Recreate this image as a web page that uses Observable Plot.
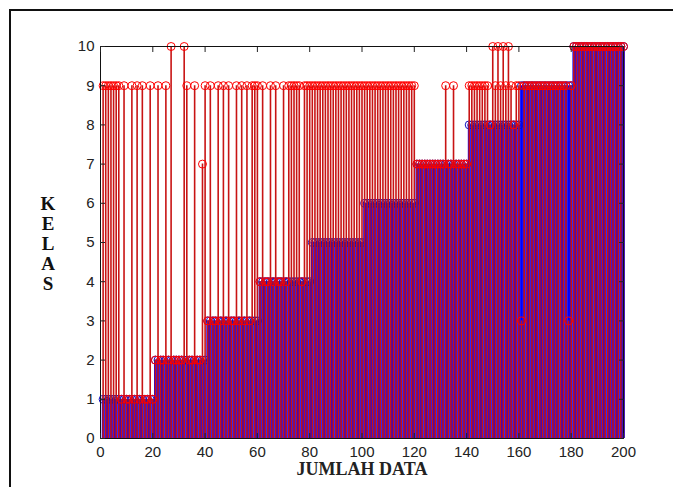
<!DOCTYPE html>
<html><head><meta charset="utf-8">
<script src="https://cdn.jsdelivr.net/npm/d3@7"></script>
<script src="https://cdn.jsdelivr.net/npm/@observablehq/plot@0.6"></script>
<style>
html,body{margin:0;padding:0;background:#fff;}
#wrap{position:relative;width:673px;height:487px;overflow:hidden;background:#fff;}
#border{position:absolute;left:9px;top:9px;width:720px;height:520px;border-left:2px solid #111;border-top:2px solid #111;}
#chart{position:absolute;left:0;top:0;}
#ylab{position:absolute;left:36px;top:194px;width:24px;font:bold 19px "Liberation Serif","Times New Roman",serif;line-height:20px;text-align:center;color:#111;}
#xlab{position:absolute;left:262px;width:200px;top:459px;text-align:center;font:bold 18px "Liberation Serif","Times New Roman",serif;color:#222;}
</style></head>
<body><div id="wrap"><div id="border"></div><div id="chart"></div><div id="ylab">K<br>E<br>L<br>A<br>S</div><div id="xlab">JUMLAH DATA</div></div>
<script>
// Actual class (blue stems), samples 1..200
const actualClass = [
  1,1,1,1,1,1,1,1,1,1,1,1,1,1,1,1,1,1,1,1,
  2,2,2,2,2,2,2,2,2,2,2,2,2,2,2,2,2,2,2,2,
  3,3,3,3,3,3,3,3,3,3,3,3,3,3,3,3,3,3,3,3,
  4,4,4,4,4,4,4,4,4,4,4,4,4,4,4,4,4,4,4,4,
  5,5,5,5,5,5,5,5,5,5,5,5,5,5,5,5,5,5,5,5,
  6,6,6,6,6,6,6,6,6,6,6,6,6,6,6,6,6,6,6,6,
  7,7,7,7,7,7,7,7,7,7,7,7,7,7,7,7,7,7,7,7,
  8,8,8,8,8,8,8,8,8,8,8,8,8,8,8,8,8,8,8,8,
  9,9,9,9,9,9,9,9,9,9,9,9,9,9,9,9,9,9,9,9,
  10,10,10,10,10,10,10,10,10,10,10,10,10,10,10,10,10,10,10,10
];
// Predicted class (red stems with circles), samples 1..200
const predictedClass = [
  9,9,9,9,9,9,9,1,9,1,1,9,1,9,1,9,1,1,9,1,
  2,9,2,2,9,2,10,2,2,2,2,10,9,2,2,9,2,2,7,9,
  3,9,3,3,9,3,9,3,9,3,3,9,3,9,3,9,3,9,9,9,
  4,9,4,4,9,4,9,4,4,9,4,9,9,9,9,9,4,9,9,9,
  9,9,9,9,9,9,9,9,9,9,9,9,9,9,9,9,9,9,9,9,
  9,9,9,9,9,9,9,9,9,9,9,9,9,9,9,9,9,9,9,9,
  7,7,7,7,7,7,7,7,7,7,7,9,7,7,9,7,7,7,7,7,
  9,9,9,9,9,9,9,9,8,10,9,10,9,10,9,10,9,8,9,9,
  3,9,9,9,9,9,9,9,9,9,9,9,9,9,9,9,9,9,3,9,
  10,10,10,10,10,10,10,10,10,10,10,10,10,10,10,10,10,10,10,10
];
const xTicks = [0,20,40,60,80,100,120,140,160,180,200];
const yTicks = [0,1,2,3,4,5,6,7,8,9,10];
const xLabel = "JUMLAH DATA";
const yLabel = "KELAS";

const rows = actualClass.map((a, i) => ({n: i + 1, actual: a, predicted: predictedClass[i]}));

const blue = "#0000ff", red = "#c81414";
const chart = Plot.plot({
  width: 673, height: 487,
  marginLeft: 100, marginRight: 50, marginTop: 46, marginBottom: 49,
  x: {domain: [0, 200]},
  y: {domain: [0, 10]},
  style: {fontFamily: '"Liberation Sans Narrow","Liberation Sans",Arial,sans-serif', fontSize: "15px", color: "#222", background: "transparent"},
  marks: [
    Plot.ruleX(rows, {x: "n", y1: 0, y2: "actual", stroke: blue, strokeWidth: 2.8}),
    Plot.dot(rows, {x: "n", y: "actual", r: 4, stroke: "#1010c0", strokeWidth: 1}),
    Plot.ruleX(rows, {x: "n", y1: 0, y2: "predicted", stroke: red, strokeWidth: 1.6}),
    Plot.dot(rows, {x: "n", y: "predicted", r: 4, stroke: "#ff0000", strokeWidth: 1}),
    Plot.frame({stroke: "#111"}),
    Plot.axisX(xTicks, {anchor: "bottom", tickSize: -5, tickPadding: 13, label: null}),
    Plot.axisX(xTicks, {anchor: "top", tickSize: -5, tickFormat: () => "", label: null}),
    Plot.axisY(yTicks, {anchor: "left", tickSize: -5, tickPadding: 11, label: null}),
    Plot.axisY(yTicks, {anchor: "right", tickSize: -5, tickFormat: () => "", label: null})
  ]
});
document.getElementById("chart").appendChild(chart);
document.getElementById("xlab").textContent = xLabel;
document.getElementById("ylab").innerHTML = yLabel.split("").join("<br>");
</script>
</body></html>
